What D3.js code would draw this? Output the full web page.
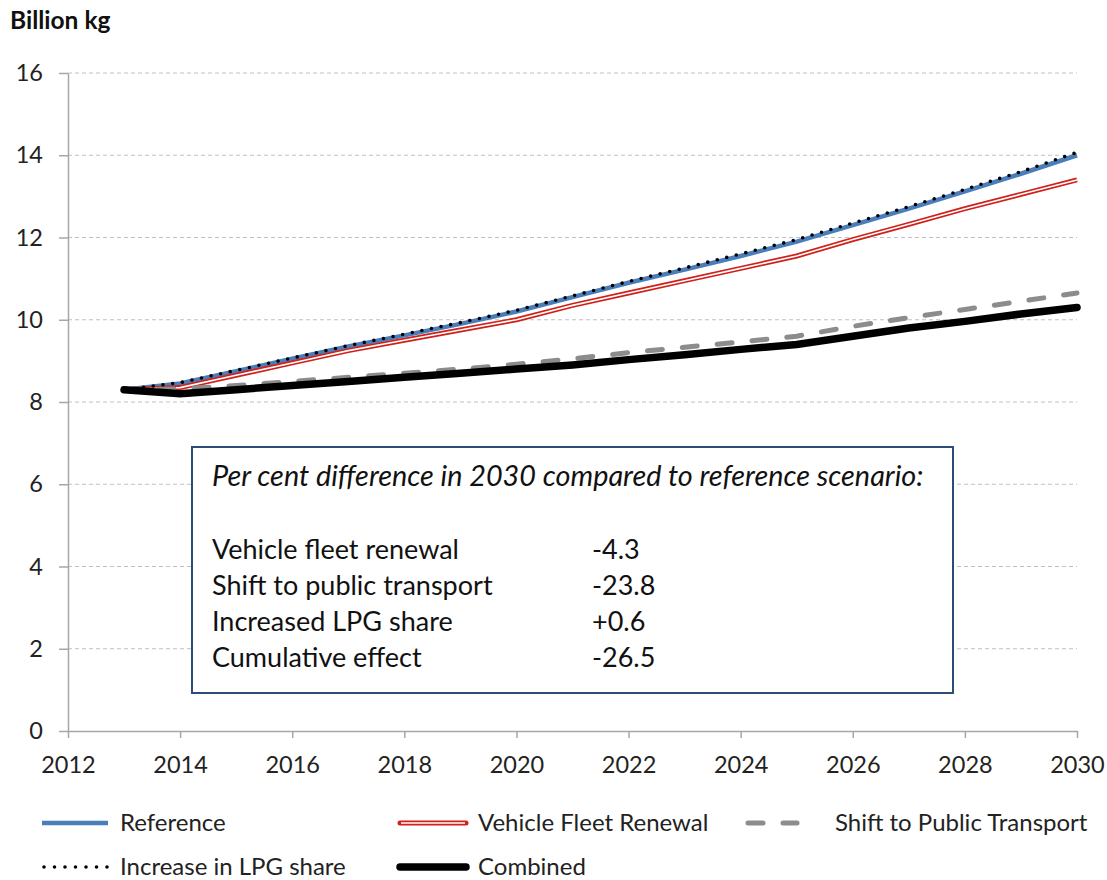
<!DOCTYPE html>
<html>
<head>
<meta charset="utf-8">
<script src="https://cdn.jsdelivr.net/npm/d3@7"></script>
<style>
  body { margin: 0; background: #fff; }
  svg { font-family: Lato, "Open Sans", sans-serif; }
</style>
</head>
<body>
<svg id="chart" width="1107" height="880"></svg>
<script>
// years on the x axis
var years = [2013, 2014, 2015, 2016, 2017, 2018, 2019, 2020, 2021, 2022, 2023, 2024, 2025, 2026, 2027, 2028, 2029, 2030];

// billion kg
var reference = [8.3, 8.45, 8.75, 9.05, 9.35, 9.62, 9.9, 10.2, 10.55, 10.9, 11.22, 11.55, 11.9, 12.3, 12.7, 13.12, 13.55, 14.0];
var fleetRenewal = [8.3, 8.35, 8.65, 8.95, 9.25, 9.5, 9.75, 10.0, 10.35, 10.65, 10.95, 11.25, 11.55, 11.95, 12.32, 12.7, 13.05, 13.4];
var publicTransport = [8.3, 8.32, 8.4, 8.5, 8.6, 8.7, 8.8, 8.92, 9.05, 9.2, 9.33, 9.46, 9.6, 9.84, 10.05, 10.25, 10.45, 10.65];
var lpgShare = [8.3, 8.47, 8.77, 9.07, 9.37, 9.65, 9.93, 10.23, 10.58, 10.93, 11.26, 11.6, 11.95, 12.35, 12.75, 13.17, 13.6, 14.07];
var combined = [8.3, 8.2, 8.3, 8.4, 8.5, 8.6, 8.7, 8.8, 8.9, 9.03, 9.15, 9.28, 9.4, 9.6, 9.8, 9.96, 10.14, 10.3];

var xTicks = [2012, 2014, 2016, 2018, 2020, 2022, 2024, 2026, 2028, 2030];
var yTicks = [0, 2, 4, 6, 8, 10, 12, 14, 16];

var boxTitle = 'Per cent difference in 2030 compared to reference scenario:';
var boxLabels = ['Vehicle fleet renewal', 'Shift to public transport', 'Increased LPG share', 'Cumulative effect'];
var boxValues = ['-4.3', '-23.8', '+0.6', '-26.5'];

var svg = d3.select('#chart');

var xScale = d3.scaleLinear().domain([2012, 2030]).range([68, 1077]);
var yScale = d3.scaleLinear().domain([0, 16]).range([731, 73]);

// grid lines
svg.append('g')
  .selectAll('line')
  .data(yTicks.filter(function(d) { return d > 0; }))
  .enter()
  .append('line')
  .attr('x1', xScale(2012))
  .attr('x2', xScale(2030))
  .attr('y1', function(d) { return yScale(d); })
  .attr('y2', function(d) { return yScale(d); })
  .attr('stroke', '#c0c0c0')
  .attr('stroke-width', 1)
  .attr('stroke-dasharray', '4,3');

// axes
var xAxis = d3.axisBottom(xScale).tickValues(xTicks).tickFormat(d3.format('d')).tickSize(7).tickSizeOuter(0);
var yAxis = d3.axisLeft(yScale).tickValues(yTicks).tickSize(9).tickSizeOuter(0);

var gx = svg.append('g')
  .attr('transform', 'translate(0,' + yScale(0) + ')')
  .call(xAxis);
var gy = svg.append('g')
  .attr('transform', 'translate(' + xScale(2012) + ',0)')
  .call(yAxis);

[gx, gy].forEach(function(g) {
  g.select('.domain').attr('stroke', '#a6a6a6').attr('stroke-width', 1.5);
  g.selectAll('.tick line').attr('stroke', '#a6a6a6').attr('stroke-width', 1.5);
  g.selectAll('.tick text')
    .attr('fill', '#222')
    .style('font-size', '23.5px')
    .style('font-family', 'Lato, sans-serif');
});
gx.selectAll('.tick text').attr('y', 25).attr('dy', '0.71em');
gy.selectAll('.tick text').attr('x', -25);

// axis title
svg.append('text')
  .attr('x', 10)
  .attr('y', 29)
  .style('font-size', '24.5px')
  .style('font-weight', 'bold')
  .attr('fill', '#111')
  .text('Billion kg');

var line = d3.line()
  .x(function(d, i) { return xScale(years[i]); })
  .y(function(d) { return yScale(d); });

// reference
svg.append('path')
  .datum(reference)
  .attr('d', line)
  .attr('fill', 'none')
  .attr('stroke', '#4a7ebb')
  .attr('stroke-width', 4.5);

// vehicle fleet renewal: double line, red with white core
svg.append('path')
  .datum(fleetRenewal)
  .attr('d', line)
  .attr('fill', 'none')
  .attr('stroke', '#d0201a')
  .attr('stroke-width', 5);
svg.append('path')
  .datum(fleetRenewal)
  .attr('d', line)
  .attr('fill', 'none')
  .attr('stroke', '#fff')
  .attr('stroke-width', 1.6);

// shift to public transport
svg.append('path')
  .datum(publicTransport)
  .attr('d', line)
  .attr('fill', 'none')
  .attr('stroke', '#8c8c8c')
  .attr('stroke-width', 5)
  .attr('stroke-linecap', 'round')
  .attr('stroke-dasharray', '15,20');

// LPG dotted
svg.append('path')
  .datum(lpgShare)
  .attr('d', line)
  .attr('fill', 'none')
  .attr('stroke', '#000')
  .attr('stroke-width', 3.6)
  .attr('stroke-linecap', 'round')
  .attr('stroke-dasharray', '0,9.8');

// combined
svg.append('path')
  .datum(combined)
  .attr('d', line)
  .attr('fill', 'none')
  .attr('stroke', '#000')
  .attr('stroke-width', 7.5)
  .attr('stroke-linecap', 'round');

// text box
var box = svg.append('g');
box.append('rect')
  .attr('x', 192)
  .attr('y', 447)
  .attr('width', 761)
  .attr('height', 246)
  .attr('fill', '#fff')
  .attr('stroke', '#2c4d78')
  .attr('stroke-width', 2);

box.append('text')
  .attr('x', 212)
  .attr('y', 486)
  .style('font-size', '28.8px')
  .style('font-style', 'italic')
  .attr('fill', '#111')
  .text(boxTitle);

boxLabels.forEach(function(label, i) {
  box.append('text')
    .attr('x', 212)
    .attr('y', 559 + i * 36)
    .style('font-size', '27px')
    .attr('fill', '#111')
    .text(label);
  box.append('text')
    .attr('x', 592)
    .attr('y', 559 + i * 36)
    .style('font-size', '27px')
    .attr('fill', '#111')
    .text(boxValues[i]);
});

// legend
var legendItems = [
  { name: 'Reference', x: 42, y: 823, kind: 'ref' },
  { name: 'Vehicle Fleet Renewal', x: 400, y: 823, kind: 'fleet' },
  { name: 'Shift to Public Transport', x: 745, y: 823, kind: 'shift' },
  { name: 'Increase in LPG share', x: 42, y: 867, kind: 'lpg' },
  { name: 'Combined', x: 400, y: 867, kind: 'comb' }
];

var legend = svg.append('g');
legendItems.forEach(function(item) {
  var g = legend.append('g');
  var len = item.kind === 'shift' ? 52 : 66;
  var seg = g.append('line')
    .attr('x1', item.x)
    .attr('x2', item.x + len)
    .attr('y1', item.y)
    .attr('y2', item.y)
    .attr('fill', 'none');
  if (item.kind === 'ref') {
    seg.attr('stroke', '#4a7ebb').attr('stroke-width', 4.5);
  } else if (item.kind === 'fleet') {
    seg.attr('stroke', '#d0201a').attr('stroke-width', 5).attr('stroke-linecap', 'round');
    g.append('line')
      .attr('x1', item.x + 1).attr('x2', item.x + len - 1)
      .attr('y1', item.y).attr('y2', item.y)
      .attr('stroke', '#fff').attr('stroke-width', 1.6);
  } else if (item.kind === 'shift') {
    seg.attr('x1', item.x + 3).attr('stroke', '#8c8c8c').attr('stroke-width', 5)
      .attr('stroke-linecap', 'round').attr('stroke-dasharray', '15,20');
  } else if (item.kind === 'lpg') {
    seg.attr('x1', item.x + 2).attr('stroke', '#000').attr('stroke-width', 3.6)
      .attr('stroke-linecap', 'round').attr('stroke-dasharray', '0,10.5');
  } else {
    seg.attr('stroke', '#000').attr('stroke-width', 7.5).attr('stroke-linecap', 'round');
  }
  g.append('text')
    .attr('x', item.kind === 'shift' ? item.x + 90 : item.x + 78)
    .attr('y', item.y + 8)
    .style('font-size', '24px')
    .attr('fill', '#222')
    .text(item.name);
});
</script>
</body>
</html>
